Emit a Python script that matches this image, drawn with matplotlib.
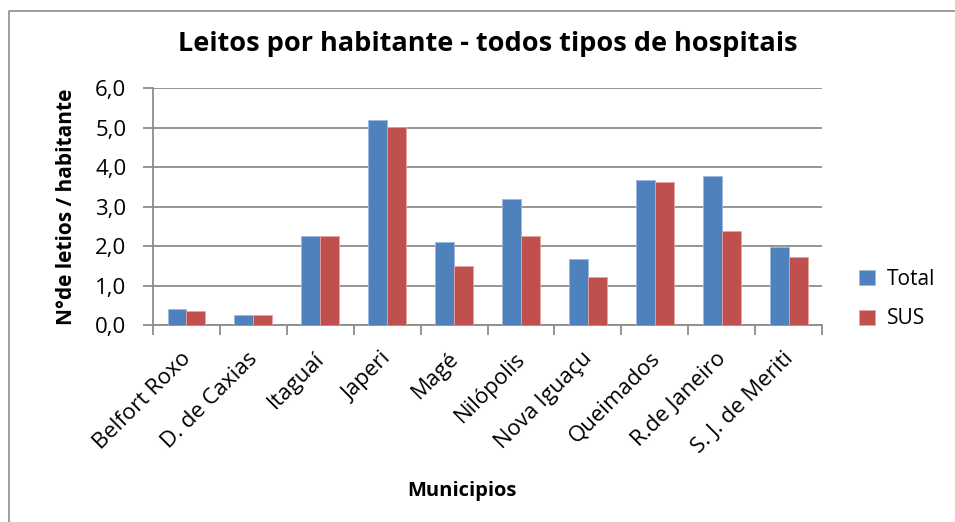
import matplotlib
matplotlib.use("Agg")
import matplotlib.pyplot as plt
import numpy as np
from matplotlib.lines import Line2D

categories = ["Belfort Roxo", "D. de Caxias", "Itaguaí", "Japeri", "Magé", "Nilópolis",
              "Nova Iguaçu", "Queimados", "R.de Janeiro", "S. J. de Meriti"]
total = [0.40, 0.26, 2.27, 5.20, 2.10, 3.20, 1.67, 3.67, 3.79, 1.97]
sus = [0.35, 0.26, 2.27, 5.03, 1.50, 2.27, 1.21, 3.62, 2.39, 1.72]
yticks = [0, 1, 2, 3, 4, 5, 6]
ytick_labels = ["0,0", "1,0", "2,0", "3,0", "4,0", "5,0", "6,0"]

plt.rcParams['font.family'] = ['Open Sans', 'DejaVu Sans']

fig = plt.figure(figsize=(9.55, 5.22), dpi=100)
ax = fig.add_axes([0.160, 0.377, 0.701, 0.454])

x = np.arange(len(categories))
w = 0.28
blue = "#4F81BD"
red = "#C0504D"
ax.bar(x - w/2, total, w, color=blue, edgecolor="#9DB9DE", linewidth=0.6, label="Total", zorder=3)
ax.bar(x + w/2, sus, w, color=red, edgecolor="#E4A5A3", linewidth=0.6, label="SUS", zorder=3)

ax.set_xlim(-0.5, len(categories) - 0.5)
ax.set_ylim(0, 6)
ax.set_yticks(yticks)
ax.set_yticklabels(ytick_labels, fontsize=16)
ax.yaxis.grid(True, color="#8C8C8C", linewidth=1.3, zorder=0)
ax.set_axisbelow(True)

for s in ["top", "right"]:
    ax.spines[s].set_visible(False)
for s in ["left", "bottom"]:
    ax.spines[s].set_color("#8C8C8C")
    ax.spines[s].set_linewidth(1.3)

ax.set_xticks(np.arange(-0.5, len(categories) + 0.5, 1))
ax.set_xticklabels([])
ax.tick_params(axis="x", length=7, color="#8C8C8C", width=1.3, direction="out")
ax.tick_params(axis="y", length=7, color="#8C8C8C", width=1.3, direction="out", pad=12)

for i, c in enumerate(categories):
    ax.text(i - 0.09, -0.58, c, rotation=45, ha="right", va="top", fontsize=16,
            rotation_mode="anchor", transform=ax.transData)

ax.set_ylabel("N°de letios / habitante", fontsize=15, fontweight="bold", labelpad=13)
fig.text(0.484, 0.06, "Municipios", ha="center", va="center", fontsize=14.5, fontweight="bold")
fig.text(0.511, 0.915, "Leitos por habitante - todos tipos de hospitais", ha="center", va="center",
         fontsize=19.5, fontweight="bold")

leg = fig.legend(loc="center left", bbox_to_anchor=(0.88, 0.427), frameon=False, fontsize=15,
                 handlelength=0.75, handleheight=0.75, labelspacing=0.9, handletextpad=0.6)

fig.add_artist(Line2D([0.009, 0.009, 1.0], [0.0, 0.979, 0.979], transform=fig.transFigure,
                      color="#8C8C8C", linewidth=1.2))

fig.savefig("out.png", dpi=100)
